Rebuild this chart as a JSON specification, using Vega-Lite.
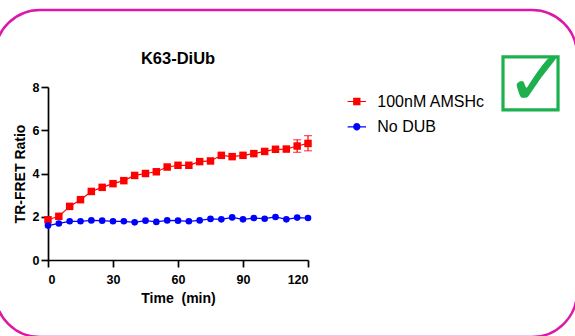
{
  "$schema": "https://vega.github.io/schema/vega-lite/v6.json",
  "width": 260,
  "height": 173,
  "autosize": {"type": "none"},
  "padding": {"left": 48, "top": 87, "right": 267, "bottom": 76},
  "background": "white",
  "config": {
    "view": {"stroke": null},
    "font": "Liberation Sans",
    "axis": {
      "domainColor": "black", "domainWidth": 1.7, "tickColor": "black", "tickWidth": 1.7, "tickSize": 7,
      "grid": false, "labelFont": "Liberation Sans", "labelFontSize": 12.5, "labelFontWeight": "bold", "labelColor": "black",
      "titleFont": "Liberation Sans", "titleFontSize": 14, "titleFontWeight": "bold", "titleColor": "black"
    }
  },
  "title": {"text": "K63-DiUb", "fontSize": 16.5, "fontWeight": "bold", "font": "Liberation Sans", "color": "black", "anchor": "middle", "frame": "group", "baseline": "middle", "offset": -67},
  "datasets": {
    "pts": [
      {"t": 0, "series": "100nM AMSHc", "v": 1.86},
      {"t": 5, "series": "100nM AMSHc", "v": 2.02},
      {"t": 10, "series": "100nM AMSHc", "v": 2.48},
      {"t": 15, "series": "100nM AMSHc", "v": 2.79},
      {"t": 20, "series": "100nM AMSHc", "v": 3.17},
      {"t": 25, "series": "100nM AMSHc", "v": 3.36},
      {"t": 30, "series": "100nM AMSHc", "v": 3.53},
      {"t": 35, "series": "100nM AMSHc", "v": 3.67},
      {"t": 40, "series": "100nM AMSHc", "v": 3.91},
      {"t": 45, "series": "100nM AMSHc", "v": 4.0},
      {"t": 50, "series": "100nM AMSHc", "v": 4.08},
      {"t": 55, "series": "100nM AMSHc", "v": 4.3},
      {"t": 60, "series": "100nM AMSHc", "v": 4.38},
      {"t": 65, "series": "100nM AMSHc", "v": 4.38},
      {"t": 70, "series": "100nM AMSHc", "v": 4.55},
      {"t": 75, "series": "100nM AMSHc", "v": 4.58},
      {"t": 80, "series": "100nM AMSHc", "v": 4.84},
      {"t": 85, "series": "100nM AMSHc", "v": 4.78},
      {"t": 90, "series": "100nM AMSHc", "v": 4.84},
      {"t": 95, "series": "100nM AMSHc", "v": 4.92},
      {"t": 100, "series": "100nM AMSHc", "v": 5.02},
      {"t": 105, "series": "100nM AMSHc", "v": 5.12},
      {"t": 110, "series": "100nM AMSHc", "v": 5.13},
      {"t": 115, "series": "100nM AMSHc", "v": 5.27, "lo": 4.98, "hi": 5.56},
      {"t": 120, "series": "100nM AMSHc", "v": 5.39, "lo": 5.05, "hi": 5.75},
      {"t": 0, "series": "No DUB", "v": 1.59},
      {"t": 5, "series": "No DUB", "v": 1.69},
      {"t": 10, "series": "No DUB", "v": 1.79},
      {"t": 15, "series": "No DUB", "v": 1.79},
      {"t": 20, "series": "No DUB", "v": 1.83},
      {"t": 25, "series": "No DUB", "v": 1.82},
      {"t": 30, "series": "No DUB", "v": 1.79},
      {"t": 35, "series": "No DUB", "v": 1.79},
      {"t": 40, "series": "No DUB", "v": 1.74},
      {"t": 45, "series": "No DUB", "v": 1.82},
      {"t": 50, "series": "No DUB", "v": 1.76},
      {"t": 55, "series": "No DUB", "v": 1.83},
      {"t": 60, "series": "No DUB", "v": 1.82},
      {"t": 65, "series": "No DUB", "v": 1.79},
      {"t": 70, "series": "No DUB", "v": 1.83},
      {"t": 75, "series": "No DUB", "v": 1.9},
      {"t": 80, "series": "No DUB", "v": 1.88},
      {"t": 85, "series": "No DUB", "v": 1.97},
      {"t": 90, "series": "No DUB", "v": 1.88},
      {"t": 95, "series": "No DUB", "v": 1.94},
      {"t": 100, "series": "No DUB", "v": 1.91},
      {"t": 105, "series": "No DUB", "v": 1.99},
      {"t": 110, "series": "No DUB", "v": 1.88},
      {"t": 115, "series": "No DUB", "v": 1.96},
      {"t": 120, "series": "No DUB", "v": 1.94}
    ]
  },
  "data": {"name": "pts"},
  "layer": [
    {
      "mark": {"type": "line", "strokeWidth": 1.2, "clip": false},
      "encoding": {
        "x": {"field": "t", "type": "quantitative", "title": "Time\u00a0 (min)", "scale": {"domain": [0, 120], "nice": false, "zero": false},
              "axis": {"values": [0, 30, 60, 90, 120], "labelPadding": 6, "titlePadding": 6}},
        "y": {"field": "v", "type": "quantitative", "title": "TR-FRET Ratio", "scale": {"domain": [0, 8], "nice": false},
              "axis": {"values": [0, 2, 4, 6, 8], "labelPadding": 2, "titlePadding": 5}},
        "color": {"field": "series", "type": "nominal", "scale": {"domain": ["100nM AMSHc", "No DUB"], "range": ["#FF0000", "#0000FF"]}},
        "detail": {"field": "series"}
      }
    },
    {
      "transform": [{"filter": "isValid(datum.lo)"}],
      "mark": {"type": "errorbar", "color": "#FF0000", "thickness": 1.2, "ticks": {"size": 8, "thickness": 1.2}},
      "encoding": {
        "x": {"field": "t", "type": "quantitative", "title": "Time\u00a0 (min)"},
        "y": {"field": "lo", "type": "quantitative", "title": "TR-FRET Ratio"},
        "y2": {"field": "hi"}
      }
    },
    {
      "transform": [{"filter": "datum.series === '100nM AMSHc'"}],
      "mark": {"type": "point", "shape": "square", "size": 56, "filled": true, "opacity": 1, "strokeWidth": 0, "clip": false},
      "encoding": {
        "x": {"field": "t", "type": "quantitative", "title": "Time\u00a0 (min)"},
        "y": {"field": "v", "type": "quantitative", "title": "TR-FRET Ratio"},
        "color": {"field": "series", "type": "nominal"}
      }
    },
    {
      "transform": [{"filter": "datum.series === 'No DUB'"}],
      "mark": {"type": "point", "shape": "circle", "size": 44, "filled": true, "opacity": 1, "strokeWidth": 0, "clip": false},
      "encoding": {
        "x": {"field": "t", "type": "quantitative", "title": "Time\u00a0 (min)"},
        "y": {"field": "v", "type": "quantitative", "title": "TR-FRET Ratio"},
        "color": {"field": "series", "type": "nominal"}
      }
    },
    {
      "transform": [{"filter": "false"}],
      "mark": {"type": "point", "size": 339, "filled": true, "opacity": 1, "strokeWidth": 0},
      "encoding": {
        "x": {"field": "t", "type": "quantitative", "title": "Time\u00a0 (min)"},
        "y": {"field": "v", "type": "quantitative", "title": "TR-FRET Ratio"},
        "color": {"field": "series", "type": "nominal",
          "legend": {
            "title": null, "orient": "none", "legendX": 299.3, "legendY": 5, "padding": 0,
            "symbolSize": 339, "symbolStrokeWidth": 0, "symbolOpacity": 1,
            "labelFont": "Liberation Sans", "labelFontSize": 16, "labelColor": "black", "labelOffset": 11, "rowPadding": 7.3
          }},
        "shape": {"field": "series", "type": "nominal", "scale": {"domain": ["100nM AMSHc", "No DUB"], "range": ["M-1,-0.065H1V0.065H-1ZM-0.4,-0.4H0.4V0.4H-0.4Z", "M-1,-0.065H1V0.065H-1ZM0.4,0A0.4,0.4,0,1,1,-0.4,0A0.4,0.4,0,1,1,0.4,0Z"]}}
      }
    },
    {
      "data": {"values": [{}]},
      "mark": {"type": "rect", "cornerRadius": 45, "fill": "transparent", "stroke": "#DD18A8", "strokeWidth": 2.5, "clip": false},
      "encoding": {
        "x": {"datum": -24.46, "type": "quantitative", "title": "Time\u00a0 (min)"},
        "x2": {"datum": 244.15},
        "y": {"datum": 11.56, "type": "quantitative", "title": "TR-FRET Ratio"},
        "y2": {"datum": -3.56}
      }
    },
    {
      "data": {"values": [{}]},
      "mark": {"type": "rect", "fill": "transparent", "stroke": "#1DB04E", "strokeWidth": 3.2, "clip": false},
      "encoding": {
        "x": {"datum": 210.0, "type": "quantitative", "title": "Time\u00a0 (min)"},
        "x2": {"datum": 235.4},
        "y": {"datum": 9.39, "type": "quantitative", "title": "TR-FRET Ratio"},
        "y2": {"datum": 6.94}
      }
    },
    {
      "data": {"values": [{}]},
      "mark": {"type": "text", "text": "✓", "font": "DejaVu Sans", "fontSize": 76, "color": "#1DB04E", "align": "center", "baseline": "middle", "clip": false},
      "encoding": {
        "x": {"datum": 225.7, "type": "quantitative", "title": "Time\u00a0 (min)"},
        "y": {"datum": 8.25, "type": "quantitative", "title": "TR-FRET Ratio"}
      }
    }
  ]
}
